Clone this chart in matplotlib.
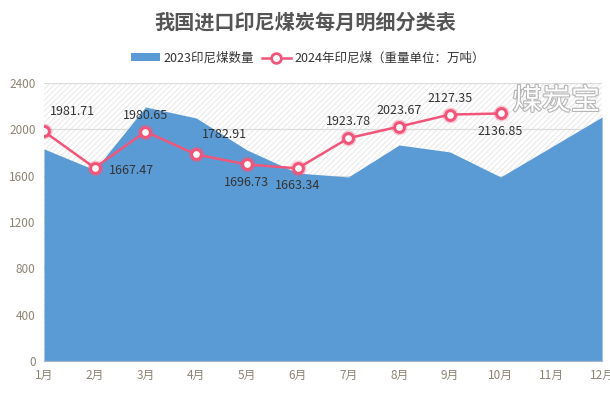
import matplotlib
matplotlib.use('Agg')
import matplotlib.pyplot as plt
import matplotlib.patheffects as pe
from matplotlib.lines import Line2D
from matplotlib.patches import Patch
import numpy as np

plt.rcParams['font.family'] = ['Noto Sans CJK SC', 'DejaVu Sans']
plt.rcParams['hatch.linewidth'] = 0.6
plt.rcParams['hatch.color'] = '#e6e6e6'

# Data
months = ['1月', '2月', '3月', '4月', '5月', '6月', '7月', '8月', '9月', '10月', '11月', '12月']
qty_2023 = [1831, 1650, 2193, 2098, 1822, 1623, 1589, 1865, 1805, 1589, 1848, 2107]
qty_2024 = [1981.71, 1667.47, 1980.65, 1782.91, 1696.73, 1663.34, 1923.78, 2023.67, 2127.35, 2136.85]
label_pos = ['ur', 'r', 'u', 'ur', 'd', 'd', 'u', 'u', 'u', 'd']
yticks = [0, 400, 800, 1200, 1600, 2000, 2400]

blue = '#5b9bd5'
red = '#f2557a'

fig = plt.figure(figsize=(6.1, 3.93), dpi=100)
ax = fig.add_axes([0.0721, 0.0814, 0.9149, 0.7074])

x = np.arange(len(months))
x24 = np.arange(len(qty_2024))

# hatched background
ax.fill_between([0, 11], 0, 2400, facecolor='white', hatch='//////', edgecolor='#e6e6e6',
                linewidth=0, zorder=0)
for t in yticks[1:]:
    ax.axhline(t, color='#dcdcdc', linewidth=0.9, zorder=1)

ax.fill_between(x, 0, qty_2023, color=blue, linewidth=0, zorder=2)

# line with halo markers
ax.plot(x24, qty_2024, color=red, linewidth=1.8, zorder=3)
ax.scatter(x24, qty_2024, s=130, color=red, alpha=0.3, linewidths=0, zorder=4)
ax.scatter(x24, qty_2024, s=50, facecolor='white', edgecolor=red, linewidths=2.2, zorder=5)

offsets = {'ur': (4, 10, 'left', 'bottom'), 'r': (10, -2, 'left', 'center'),
           'u': (0, 7, 'center', 'bottom'), 'd': (0, -8, 'center', 'top')}
for xi, v, p in zip(x24, qty_2024, label_pos):
    dx, dy, ha, va = offsets[p]
    ax.annotate(f'{v:.2f}', (xi, v), xytext=(dx, dy), textcoords='offset points',
                ha=ha, va=va, fontsize=9, color='#333333', zorder=6)

ax.set_xlim(0, 11)
ax.set_ylim(0, 2400)
ax.set_yticks(yticks)
ax.set_xticks(x)
ax.set_xticklabels(months)
ax.tick_params(axis='both', length=0, labelsize=8.5, colors='#8c8474', pad=6)
for s in ['top', 'right', 'left']:
    ax.spines[s].set_visible(False)
ax.spines['bottom'].set_color('#aab6c8')

# watermark
fig.text(0.912, 0.742, '煤炭宝', fontsize=21, color='white', ha='center', va='center',
         path_effects=[pe.withStroke(linewidth=1.6, foreground='#b5b5b5')], zorder=10)

fig.text(0.5, 0.945, '我国进口印尼煤炭每月明细分类表', ha='center', va='center',
         fontsize=14.5, fontweight='bold', color='#555555')

handles = [Patch(facecolor=blue, edgecolor='none'),
           Line2D([], [], color=red, linewidth=1.8, marker='o', markersize=7,
                  markerfacecolor='white', markeredgecolor=red, markeredgewidth=2)]
fig.legend(handles, ['2023印尼煤数量', '2024年印尼煤（重量单位：万吨）'], loc='center',
           bbox_to_anchor=(0.505, 0.852), ncol=2, frameon=False, fontsize=9,
           handlelength=2.3, handleheight=0.55, columnspacing=0.6, handletextpad=0.3,
           labelcolor='#333333')

fig.savefig('out.png', dpi=100)
